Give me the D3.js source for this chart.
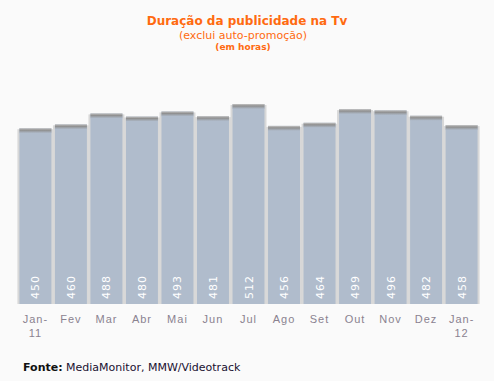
<!DOCTYPE html>
<html>
<head>
<meta charset="utf-8">
<script src="https://cdn.jsdelivr.net/npm/d3@7"></script>
<style>
  html, body { margin: 0; padding: 0; background: #fafafa; }
  svg { display: block; font-family: Verdana, "DejaVu Sans", sans-serif; }
</style>
</head>
<body>
<svg id="chart" width="494" height="381"></svg>
<script>
const months = ['Jan-11', 'Fev', 'Mar', 'Abr', 'Mai', 'Jun', 'Jul', 'Ago', 'Set', 'Out', 'Nov', 'Dez', 'Jan-12'];
const hours  = [450, 460, 488, 480, 493, 481, 512, 456, 464, 499, 496, 482, 458];

const width  = 494;
const height = 381;
const base   = 304;

const svg = d3.select('#chart');
svg.append('rect').attr('width', width).attr('height', height).attr('fill', '#fafafa');

const defs = svg.append('defs');
const grad = defs.append('linearGradient').attr('id', 'topShade').attr('x1', 0).attr('y1', 0).attr('x2', 0).attr('y2', 1);
grad.append('stop').attr('offset', '0%').attr('stop-color', '#c4c4c4');
grad.append('stop').attr('offset', '40%').attr('stop-color', '#8f8f8f');
grad.append('stop').attr('offset', '100%').attr('stop-color', '#b0bccc');

const x = d3.scaleBand().domain(months).range([18, 479]).paddingInner(0.1).paddingOuter(0.04);
const y = d3.scaleLinear().domain([0, 512]).range([base, 104]);

const data = months.map((m, i) => ({month: m, value: hours[i]}));

// titles
const title = svg.append('g').attr('text-anchor', 'middle').attr('fill', '#ff6a10');
title.append('text').attr('x', 247).attr('y', 25).attr('font-size', 12).attr('font-weight', 'bold')
  .text('Duração da publicidade na Tv');
title.append('text').attr('x', 243).attr('y', 39).attr('font-size', 11)
  .text('(exclui auto-promoção)');
title.append('text').attr('x', 243).attr('y', 50).attr('font-size', 9).attr('font-weight', 'bold')
  .text('(em horas)');

const bars = svg.append('g').selectAll('g').data(data).join('g');

// light side shadow
bars.append('rect')
  .attr('x', d => x(d.month) - 2)
  .attr('y', d => y(d.value) + 1)
  .attr('width', x.bandwidth() + 4)
  .attr('height', d => base - y(d.value) - 1)
  .attr('fill', '#d8d8d8');

bars.append('rect')
  .attr('x', d => x(d.month))
  .attr('y', d => y(d.value))
  .attr('width', x.bandwidth())
  .attr('height', d => base - y(d.value))
  .attr('fill', '#b0bccc');

bars.append('rect')
  .attr('x', d => x(d.month))
  .attr('y', d => y(d.value))
  .attr('width', x.bandwidth())
  .attr('height', 5)
  .attr('fill', 'url(#topShade)');

bars.append('text')
  .attr('transform', d => `translate(${x(d.month) + x.bandwidth() / 2 + 4},${base - 5}) rotate(-90)`)
  .attr('font-size', 11)
  .attr('letter-spacing', 1)
  .attr('fill', '#ffffff')
  .text(d => d.value);

// month axis
const xAxis = svg.append('g').attr('transform', `translate(0,${base})`)
  .call(d3.axisBottom(x).tickSize(0).tickFormat(''));
xAxis.select('.domain').remove();
xAxis.selectAll('.tick').each(function (d) {
  const t = d3.select(this).append('text')
    .attr('text-anchor', 'middle')
    .attr('fill', '#8a8290')
    .attr('font-size', 11)
    .attr('letter-spacing', 1);
  const parts = d.includes('-') ? [d.split('-')[0] + '-', d.split('-')[1]] : [d];
  parts.forEach((p, i) => t.append('tspan').attr('x', 0).attr('y', 19 + i * 14).text(p));
});

// source
const src = svg.append('text').attr('x', 23).attr('y', 371).attr('font-size', 11).attr('fill', '#201030');
src.append('tspan').attr('font-weight', 'bold').attr('fill', '#111').text('Fonte:');
src.append('tspan').text(' MediaMonitor, MMW/Videotrack');
</script>
</body>
</html>
